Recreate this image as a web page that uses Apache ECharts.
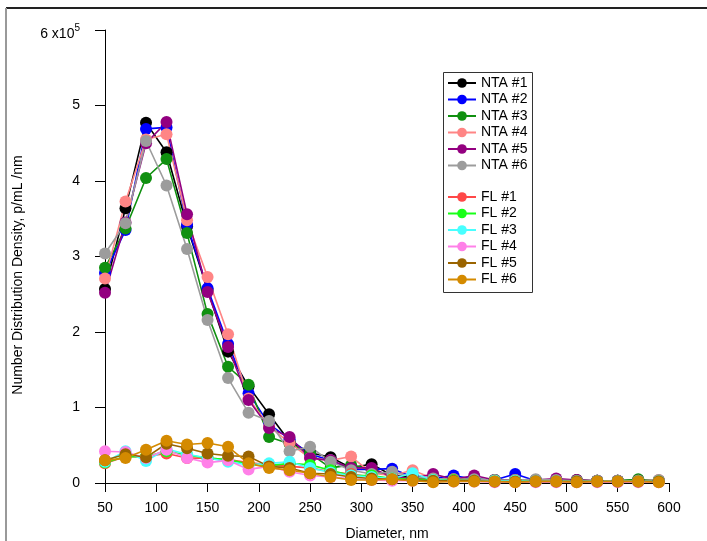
<!DOCTYPE html>
<html>
<head>
<meta charset="utf-8">
<script src="https://cdn.jsdelivr.net/npm/echarts@6/dist/echarts.min.js"></script>
<style>
  html, body { margin: 0; padding: 0; background: #fff; }
  #box1 { width: 707px; height: 541px; }
</style>
</head>
<body>
<div id="box1"></div>
<script>
var chart = echarts.init(document.getElementById('box1'));

// diameters, nm
var diameters = [50, 70, 90, 110, 130, 150, 170, 190, 210, 230, 250, 270, 290, 310,
  330, 350, 370, 390, 410, 430, 450, 470, 490, 510, 530, 550, 570, 590];

// values in units of 1e5 p/mL/nm
var nta1 = [2.57, 3.64, 4.77, 4.38, 3.40, 2.56, 1.74, 1.28, 0.91, 0.55, 0.40, 0.34, 0.20, 0.25, 0.10, 0.08, 0.06, 0.05, 0.05, 0.04, 0.04, 0.04, 0.03, 0.04, 0.03, 0.03, 0.04, 0.03];
var nta2 = [2.78, 3.35, 4.69, 4.71, 3.42, 2.58, 1.84, 1.19, 0.78, 0.58, 0.38, 0.30, 0.18, 0.18, 0.19, 0.08, 0.06, 0.10, 0.05, 0.04, 0.12, 0.03, 0.04, 0.03, 0.03, 0.03, 0.03, 0.03];
var nta3 = [2.85, 3.37, 4.04, 4.29, 3.31, 2.24, 1.54, 1.30, 0.61, 0.52, 0.39, 0.20, 0.24, 0.18, 0.08, 0.06, 0.05, 0.05, 0.05, 0.04, 0.04, 0.04, 0.03, 0.03, 0.03, 0.03, 0.05, 0.03];
var nta4 = [2.71, 3.73, 4.55, 4.62, 3.48, 2.73, 1.97, 1.12, 0.75, 0.53, 0.33, 0.30, 0.35, 0.13, 0.10, 0.17, 0.06, 0.05, 0.05, 0.03, 0.04, 0.03, 0.03, 0.03, 0.03, 0.03, 0.03, 0.04];
var nta5 = [2.52, 3.45, 4.50, 4.78, 3.56, 2.53, 1.80, 1.10, 0.73, 0.61, 0.33, 0.30, 0.20, 0.20, 0.08, 0.06, 0.12, 0.05, 0.10, 0.04, 0.04, 0.04, 0.06, 0.04, 0.03, 0.03, 0.03, 0.03];
var nta6 = [3.04, 3.44, 4.53, 3.94, 3.10, 2.16, 1.39, 0.93, 0.82, 0.42, 0.48, 0.28, 0.17, 0.12, 0.15, 0.08, 0.06, 0.05, 0.05, 0.04, 0.04, 0.05, 0.04, 0.03, 0.03, 0.03, 0.03, 0.04];

var fl1 = [0.26, 0.35, 0.35, 0.39, 0.33, 0.33, 0.31, 0.27, 0.24, 0.22, 0.20, 0.15, 0.12, 0.08, 0.06, 0.05, 0.04, 0.04, 0.03, 0.03, 0.03, 0.02, 0.02, 0.02, 0.02, 0.02, 0.02, 0.02];
var fl2 = [0.27, 0.35, 0.35, 0.42, 0.37, 0.33, 0.31, 0.25, 0.23, 0.26, 0.24, 0.17, 0.10, 0.10, 0.06, 0.05, 0.04, 0.04, 0.03, 0.03, 0.03, 0.02, 0.02, 0.02, 0.02, 0.02, 0.02, 0.02];
var fl3 = [0.28, 0.42, 0.29, 0.45, 0.38, 0.33, 0.28, 0.24, 0.26, 0.28, 0.20, 0.14, 0.10, 0.08, 0.06, 0.13, 0.04, 0.03, 0.03, 0.03, 0.03, 0.02, 0.02, 0.02, 0.02, 0.02, 0.02, 0.02];
var fl4 = [0.42, 0.41, 0.33, 0.44, 0.33, 0.27, 0.30, 0.18, 0.22, 0.15, 0.10, 0.08, 0.06, 0.04, 0.03, 0.03, 0.02, 0.02, 0.02, 0.01, 0.01, 0.01, 0.01, 0.01, 0.01, 0.01, 0.01, 0.01];
var fl5 = [0.30, 0.38, 0.34, 0.52, 0.46, 0.39, 0.36, 0.35, 0.22, 0.20, 0.13, 0.12, 0.08, 0.06, 0.05, 0.04, 0.03, 0.03, 0.03, 0.02, 0.02, 0.02, 0.02, 0.02, 0.02, 0.02, 0.02, 0.02];
var fl6 = [0.30, 0.33, 0.44, 0.56, 0.51, 0.53, 0.48, 0.26, 0.20, 0.17, 0.13, 0.08, 0.04, 0.04, 0.05, 0.03, 0.01, 0.02, 0.02, 0.02, 0.01, 0.02, 0.02, 0.01, 0.02, 0.02, 0.02, 0.01];

var ntaNames = ['NTA #1', 'NTA #2', 'NTA #3', 'NTA #4', 'NTA #5', 'NTA #6'];
var flNames = ['FL #1', 'FL #2', 'FL #3', 'FL #4', 'FL #5', 'FL #6'];
var ntaColors = ['#000000', '#0000ff', '#109010', '#ff8585', '#930080', '#9c9c9c'];
var flColors = ['#ff4848', '#18ff18', '#48ffff', '#ff80e8', '#9a6400', '#d48a00'];

var SCALE = 100000;
var font = 'Arial, "Liberation Sans", sans-serif';

function makeSeries(name, vals, color) {
  return {
    name: name,
    type: 'line',
    data: vals.map(function(v, i) { return [diameters[i], v * SCALE]; }),
    symbol: 'circle',
    symbolSize: 12,
    showSymbol: true,
    animation: false,
    itemStyle: { color: color },
    lineStyle: { color: color, width: 1.6 }
  };
}

var ntaData = [nta1, nta2, nta3, nta4, nta5, nta6];
var flData = [fl1, fl2, fl3, fl4, fl5, fl6];
var series = [];
ntaData.forEach(function(d, i) { series.push(makeSeries(ntaNames[i], d, ntaColors[i])); });
flData.forEach(function(d, i) { series.push(makeSeries(flNames[i], d, flColors[i])); });

var legendCommon = {
  orient: 'vertical',
  left: 447,
  padding: 0,
  itemWidth: 28,
  itemHeight: 12,
  itemGap: 2.5,
  selectedMode: false,
  textStyle: { fontFamily: font, fontSize: 14, lineHeight: 14, color: '#000' }
};

option = {
  backgroundColor: '#fff',
  legend: [
    Object.assign({}, legendCommon, { top: 76, data: ntaNames }),
    Object.assign({}, legendCommon, { top: 190, data: flNames })
  ],
  grid: {
    left: 105,
    right: 38,
    top: 30,
    bottom: 58,
    outerBoundsMode: 'none',
    containLabel: false
  },
  xAxis: {
    type: 'value',
    min: 50,
    max: 600,
    interval: 50,
    name: 'Diameter, nm',
    nameLocation: 'middle',
    nameGap: 44,
    nameTextStyle: { fontFamily: font, fontSize: 14, color: '#000' },
    axisLine: { show: true, onZero: false, lineStyle: { color: '#000', width: 1 } },
    axisTick: { show: true, length: 9, lineStyle: { color: '#000' } },
    axisLabel: { fontFamily: font, fontSize: 14, color: '#000', margin: 18 },
    splitLine: { show: false }
  },
  yAxis: {
    type: 'value',
    min: 0,
    max: 600000,
    interval: 100000,
    axisLine: { show: true, lineStyle: { color: '#000', width: 1 } },
    axisTick: { show: true, length: 10, lineStyle: { color: '#000' } },
    axisLabel: {
      fontFamily: font, fontSize: 14, color: '#000', margin: 25,
      formatter: function(v) {
        if (v === 600000) return '{base|6 x10}{sup|5}';
        return String(v / SCALE);
      },
      rich: {
        base: { fontSize: 14, padding: [8, 0, 0, 0], fontFamily: font, color: '#000' },
        sup: { fontSize: 10, padding: [0, 0, 4, 0], fontFamily: font, color: '#000' }
      }
    },
    splitLine: { show: false }
  },
  graphic: [
    { type: 'rect', shape: { x: 443.5, y: 72.5, width: 89, height: 220 },
      style: { fill: null, stroke: '#333', lineWidth: 1 }, z: 0 },
    { type: 'line', shape: { x1: 6, y1: 8, x2: 707, y2: 8 },
      style: { stroke: '#222', lineWidth: 2 } },
    { type: 'line', shape: { x1: 6, y1: 8, x2: 6, y2: 541 },
      style: { stroke: '#999', lineWidth: 2 } },
    { type: 'text', x: 18, y: 275, rotation: Math.PI / 2,
      style: { text: 'Number Distribution Density, p/mL /nm', fontFamily: font, fontSize: 14,
        fill: '#000', align: 'center', verticalAlign: 'middle' } }
  ],
  series: series
};

chart.setOption(option);
</script>
</body>
</html>
